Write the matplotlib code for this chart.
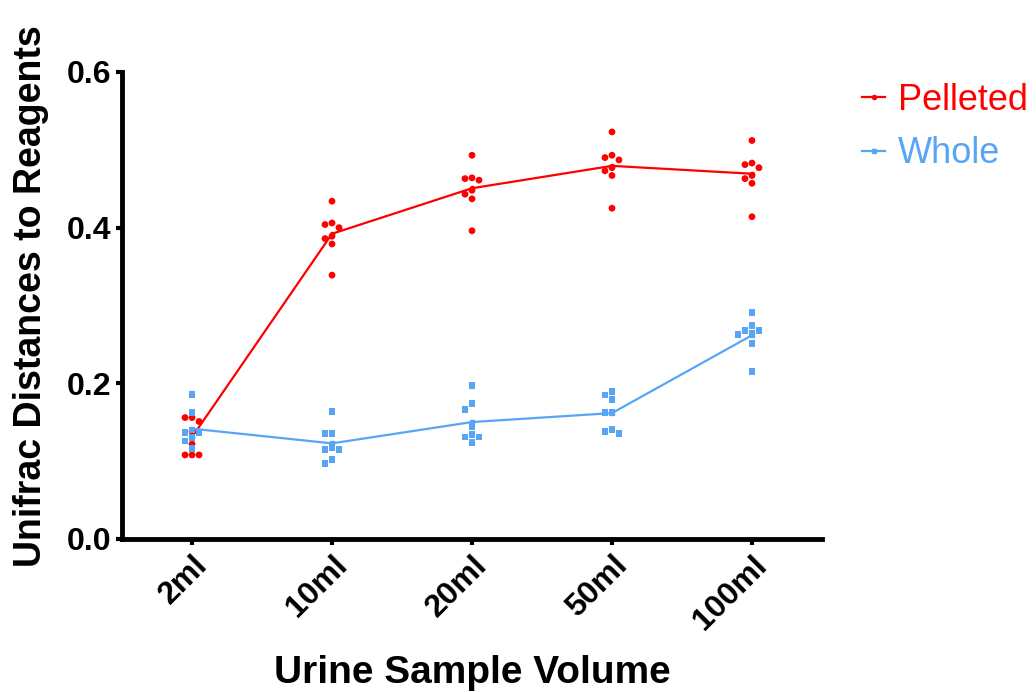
import numpy as np
import matplotlib.pyplot as plt

plt.rcParams["font.family"] = ["Liberation Sans", "DejaVu Sans"]

# データ
volumes = ["2ml", "10ml", "20ml", "50ml", "100ml"]

pelleted = [
    [0.156, 0.156, 0.151, 0.138, 0.122, 0.108, 0.108, 0.108],
    [0.434, 0.406, 0.404, 0.400, 0.389, 0.386, 0.379, 0.339],
    [0.493, 0.464, 0.463, 0.461, 0.448, 0.443, 0.437, 0.396],
    [0.523, 0.493, 0.490, 0.487, 0.477, 0.473, 0.467, 0.425],
    [0.512, 0.483, 0.481, 0.477, 0.467, 0.463, 0.457, 0.414],
]

whole = [
    [0.186, 0.162, 0.140, 0.137, 0.137, 0.130, 0.126, 0.116],
    [0.164, 0.136, 0.136, 0.118, 0.115, 0.115, 0.102, 0.097],
    [0.197, 0.174, 0.166, 0.145, 0.134, 0.131, 0.131, 0.124],
    [0.190, 0.185, 0.179, 0.163, 0.162, 0.141, 0.138, 0.136],
    [0.291, 0.274, 0.268, 0.268, 0.264, 0.263, 0.251, 0.215],
]

RED = "#FF0000"
BLUE = "#58A5F6"

fig = plt.figure(figsize=(10.36, 6.92), dpi=100)
ax = fig.add_axes([0.1178, 0.2211, 0.6756, 0.6749])
ax.set_xlim(-0.5, 4.5)
ax.set_ylim(0, 0.6)

px_x = ax.bbox.width / 5.0
px_y = ax.bbox.height / 0.6


def swarm(x0, values, d=7.0):
    # 重なる点を左右にずらす（簡易ビースウォーム）
    placed = []
    xs = []
    for v in values:
        for k in [0, -1, 1, -2, 2, -3, 3]:
            ok = True
            for (px, py) in placed:
                dx = (k * d) - px
                dy = (v - py) * px_y
                if dx * dx + dy * dy < (d - 0.5) ** 2:
                    ok = False
                    break
            if ok:
                placed.append((k * d, v))
                xs.append(x0 + k * d / px_x)
                break
    return xs


x = np.arange(len(volumes))
for data, color, marker, label in [
    (pelleted, RED, "o", "Pelleted"),
    (whole, BLUE, "s", "Whole"),
]:
    means = [np.mean(v) for v in data]
    ax.plot(x, means, color=color, lw=1.6, zorder=2,
            marker=marker, markersize=3, label=label)
    for i, vals in enumerate(data):
        ax.scatter(swarm(x[i], vals), vals, s=24, marker=marker,
                   color=color, edgecolors="none", zorder=3)

# 軸
for s in ["top", "right"]:
    ax.spines[s].set_visible(False)
for s in ["left", "bottom"]:
    ax.spines[s].set_linewidth(3.5)

ax.set_yticks([0.0, 0.2, 0.4, 0.6])
ax.set_yticklabels(["0.0", "0.2", "0.4", "0.6"], fontsize=23, fontweight="bold")
ax.set_xticks(x)
ax.set_xticklabels(volumes, rotation=45, ha="right", rotation_mode="anchor",
                   fontsize=23, fontweight="bold")
ax.tick_params(axis="both", width=3, length=4, pad=4)

ax.set_ylabel("Unifrac Distances to Reagents", fontsize=27, fontweight="bold")
ax.yaxis.set_label_coords(-0.105, 0.52)
ax.set_xlabel("Urine Sample Volume", fontsize=28, fontweight="bold", labelpad=14)

leg = ax.legend(loc="upper left", bbox_to_anchor=(1.057, 0.977), frameon=False,
                fontsize=26, handlelength=0.65, handletextpad=0.35,
                labelspacing=0.52, borderpad=0, borderaxespad=0,
                markerscale=1.0)
for text, c in zip(leg.get_texts(), [RED, BLUE]):
    text.set_color(c)

plt.savefig("out.png", dpi=100)
